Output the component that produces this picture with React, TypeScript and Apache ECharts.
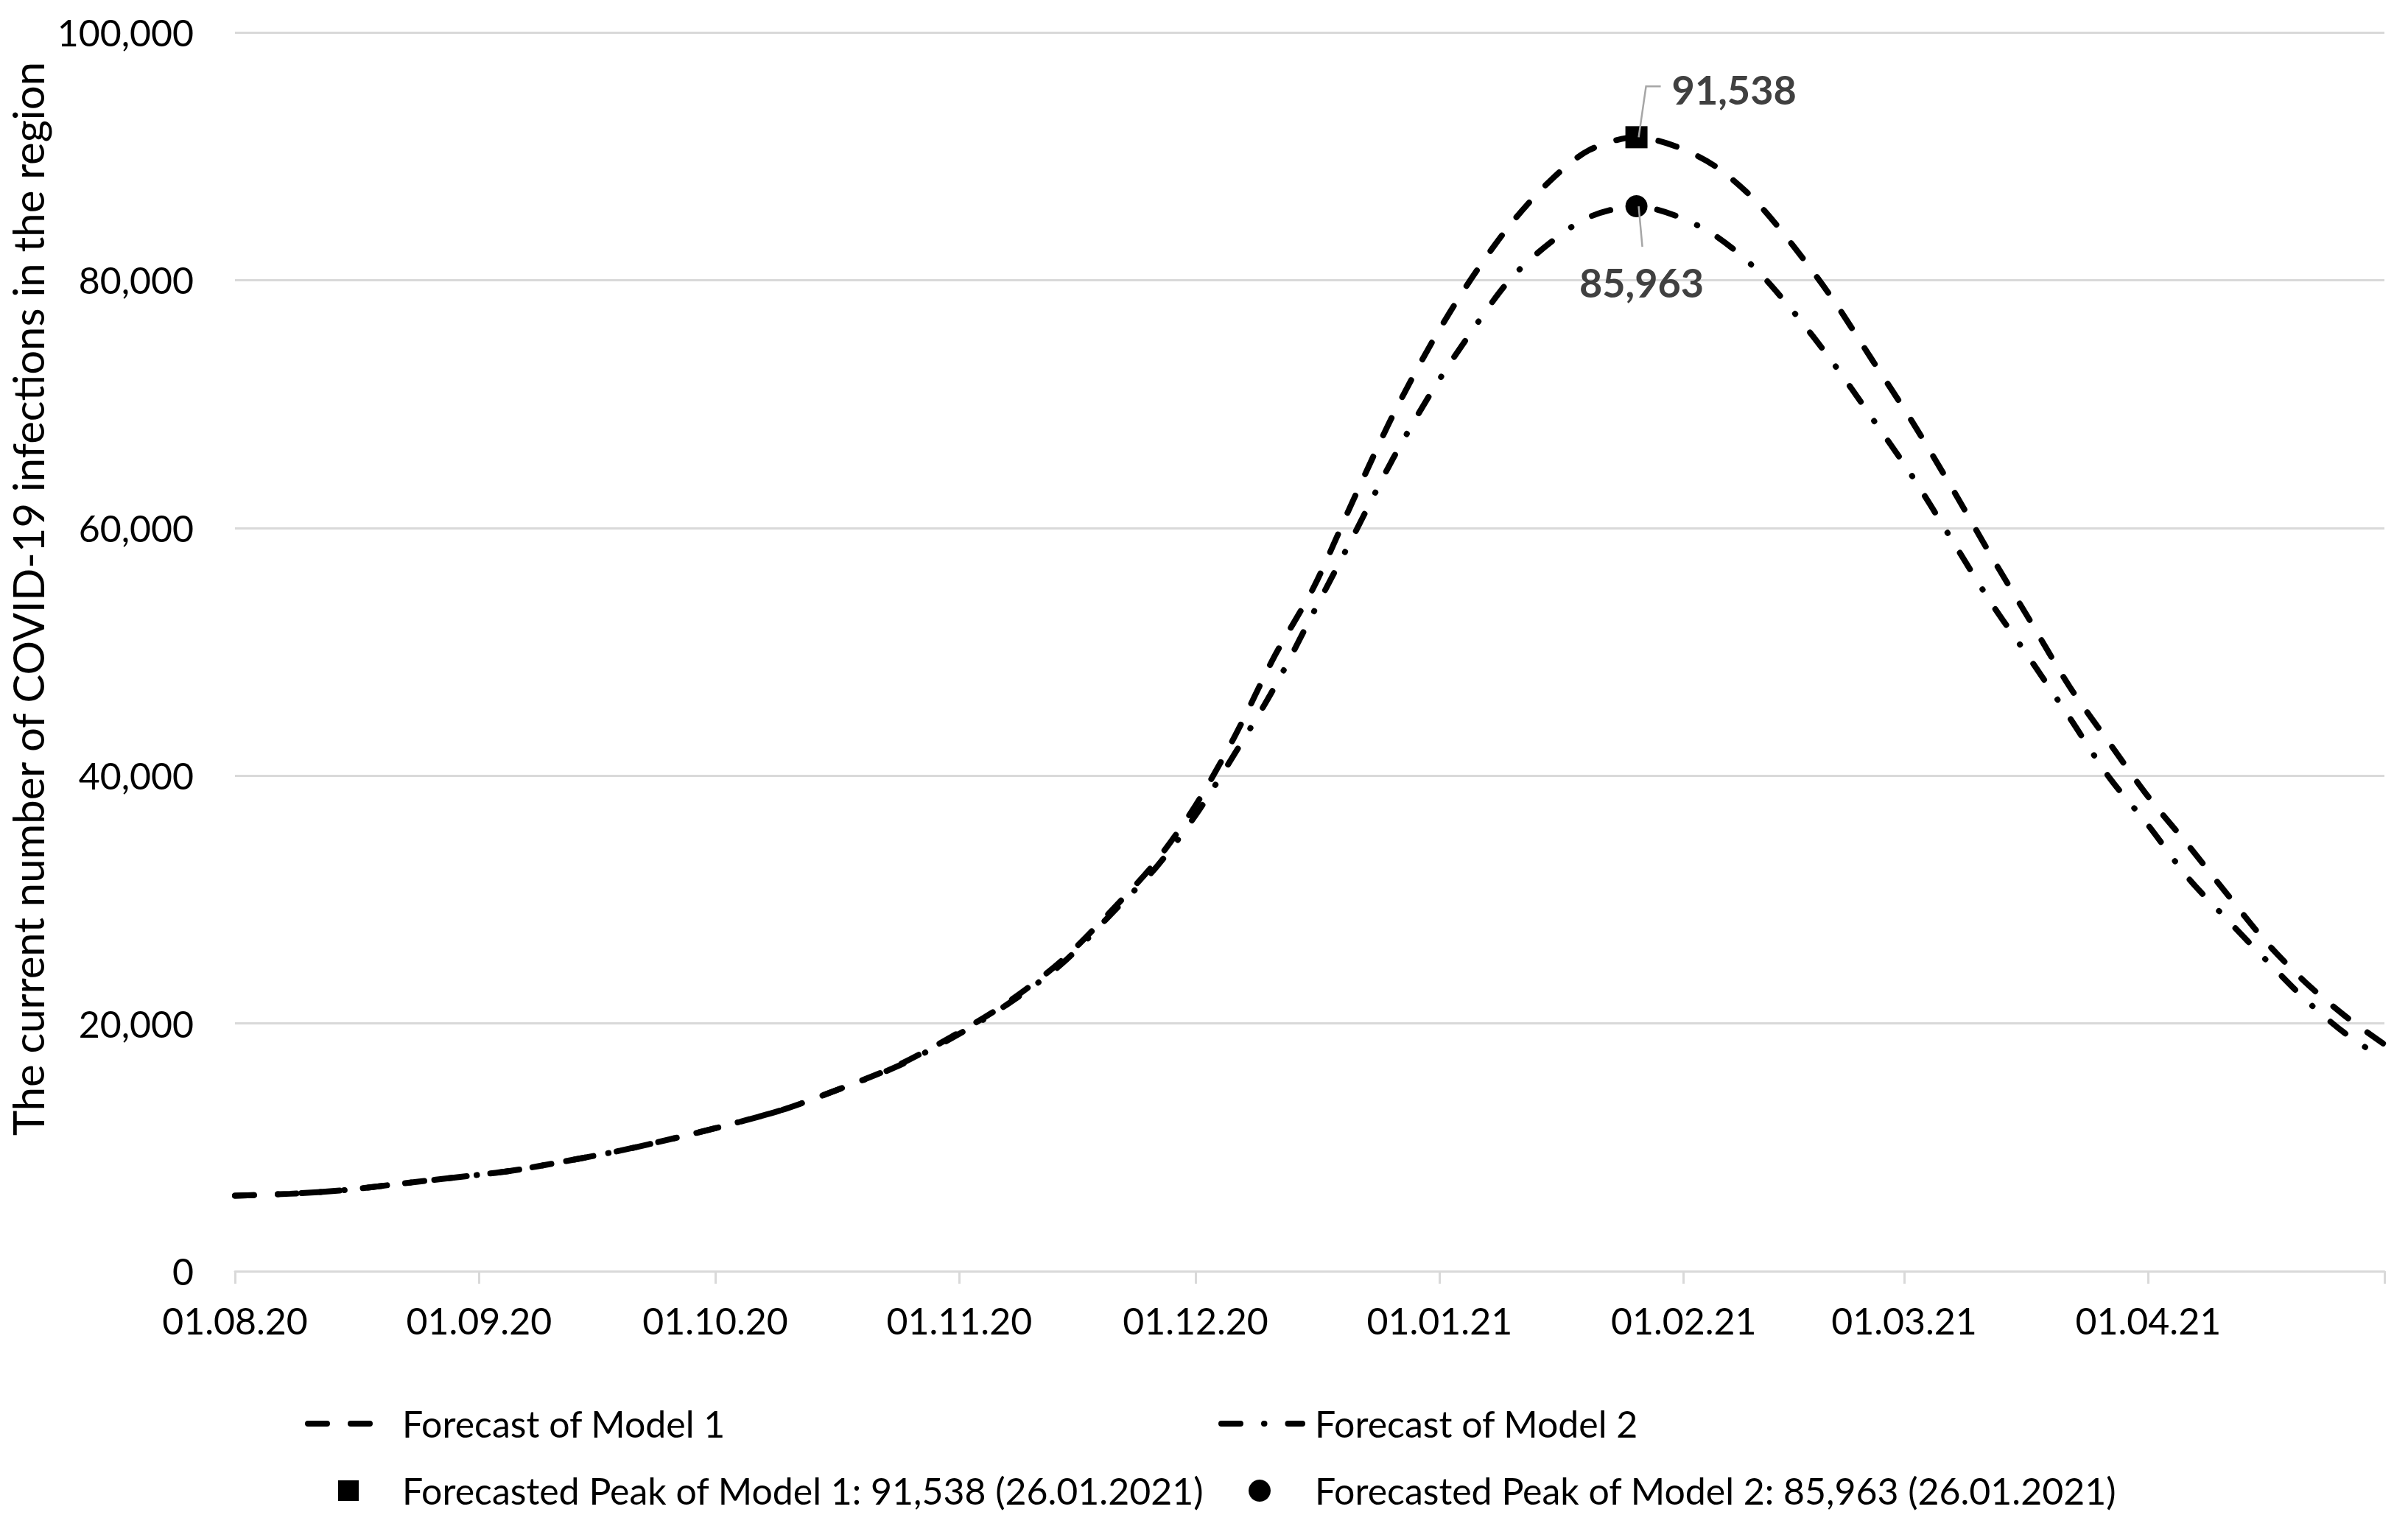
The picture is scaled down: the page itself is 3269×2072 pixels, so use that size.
import React, { useEffect, useRef } from 'react';
import * as echarts from 'echarts';

// ---- data ----
const axisStart = '01.08.20';
const axisEnd = '01.05.21';
const tickLabels = ['01.08.20', '01.09.20', '01.10.20', '01.11.20', '01.12.20', '01.01.21', '01.02.21', '01.03.21', '01.04.21'];
const yTickStep = 20000;
const yMax = 100000;

const sampleDates = [
  '01.08.20', '08.08.20', '15.08.20', '22.08.20', '29.08.20', '05.09.20', '12.09.20', '19.09.20', '26.09.20',
  '03.10.20', '10.10.20', '17.10.20', '24.10.20', '31.10.20', '07.11.20', '14.11.20', '21.11.20', '26.11.20',
  '01.12.20', '06.12.20', '11.12.20', '16.12.20', '21.12.20', '26.12.20', '31.12.20', '05.01.21', '10.01.21',
  '15.01.21', '20.01.21', '26.01.21', '31.01.21', '05.02.21', '10.02.21', '15.02.21', '20.02.21', '25.02.21',
  '02.03.21', '07.03.21', '12.03.21', '17.03.21', '22.03.21', '27.03.21', '01.04.21', '06.04.21', '11.04.21',
  '16.04.21', '21.04.21', '26.04.21', '01.05.21',
];

const model1 = [
  6100, 6250, 6550, 7060, 7570, 8100, 8880, 9740, 10760,
  11870, 13120, 14760, 16560, 18920, 21640, 25070, 29560, 33100,
  37600, 43200, 49600, 55200, 62200, 69000, 74950, 80100, 84500,
  88000, 90500, 91538, 90800, 89200, 86480, 82700, 78400, 73500,
  68600, 63300, 57800, 52500, 47200, 42700, 38300, 34450, 30450,
  26550, 23300, 20600, 18300,
];

const model2 = [
  6100, 6250, 6550, 7060, 7570, 8100, 8880, 9740, 10760,
  11870, 13120, 14760, 16500, 18800, 21500, 24800, 29300, 32600,
  36800, 41800, 47100, 53200, 59300, 65500, 71000, 75800, 80100,
  83000, 85100, 85963, 85200, 83600, 81000, 77400, 73300, 68800,
  64200, 59100, 54000, 49400, 44700, 39900, 36000, 31800, 28400,
  25100, 21900, 19200, 17100,
];

const peakDate = '26.01.21';
const peak1 = 91538;
const peak2 = 85963;

const name1 = 'Forecast of Model 1';
const name2 = 'Forecast of Model 2';
const namePeak1 = 'Forecasted Peak of Model 1: 91,538 (26.01.2021)';
const namePeak2 = 'Forecasted Peak of Model 2: 85,963 (26.01.2021)';
const yTitle = 'The current number of COVID-19 infections in the region';

// ---- helpers ----
function toUTC(s: string) {
  const [d, m, y] = s.split('.').map(Number);
  return Date.UTC(2000 + y, m - 1, d);
}
const base = toUTC(axisStart);
function toDay(s: string) {
  return Math.round((toUTC(s) - base) / 86400000);
}
const tickDays = tickLabels.map(toDay);
const endDay = toDay(axisEnd);
const labelByDay: Record<number, string> = {};
tickLabels.forEach((l, i) => (labelByDay[tickDays[i]] = l));

const line1 = sampleDates.map((d, i) => [toDay(d), model1[i]]);
const line2 = sampleDates.map((d, i) => [toDay(d), model2[i]]);
const peakDay = toDay(peakDate);

const FONT = 'Lato';
const GRID = '#d9d9d9';
const LW = 8;
const dash1 = [26, 32];
const dash2 = [26, 32, 0.5, 32];
const FS = 50;

export default function App() {
  const ref = useRef<HTMLDivElement>(null);
  useEffect(() => {
    document.body.style.margin = '0';
    const chart = echarts.init(ref.current as HTMLDivElement, null, { renderer: 'svg' });
    const peakLabel = {
      show: true,
      formatter: (p: any) => Number(p.value[1]).toLocaleString('en-US'),
      fontFamily: FONT,
      fontWeight: 'bold',
      fontSize: 54,
      color: '#404040',
      opacity: 1,
    };
    chart.setOption({
      animation: false,
      textStyle: { fontFamily: FONT },
      grid: { left: 319, right: 32, top: 44, bottom: 346, containLabel: false },
      xAxis: {
        type: 'value',
        min: 0,
        max: endDay,
        axisLine: { show: true, lineStyle: { color: GRID, width: 3 } },
        axisTick: {
          show: true,
          customValues: tickDays.concat([endDay]),
          length: 17,
          lineStyle: { color: GRID, width: 3 },
        },
        axisLabel: {
          customValues: tickDays,
          formatter: (v: number) => labelByDay[v] ?? '',
          fontFamily: FONT,
          fontSize: FS,
          color: '#000',
          margin: 42,
        },
        splitLine: { show: false },
      },
      yAxis: {
        type: 'value',
        min: 0,
        max: yMax,
        interval: yTickStep,
        axisLine: { show: false },
        axisTick: { show: false },
        axisLabel: {
          formatter: (v: number) => v.toLocaleString('en-US'),
          fontFamily: FONT,
          fontSize: FS,
          color: '#000',
          margin: 56,
        },
        splitLine: { show: true, lineStyle: { color: GRID, width: 3 } },
      },
      series: [
        {
          name: name1,
          type: 'line',
          data: line1,
          symbol: 'none',
          smooth: 0.3,
          lineStyle: { color: '#000', width: LW, type: dash1, cap: 'round' },
          itemStyle: { color: '#000' },
          z: 3,
        },
        {
          name: name2,
          type: 'line',
          data: line2,
          symbol: 'none',
          smooth: 0.3,
          lineStyle: { color: '#000', width: LW, type: dash2, cap: 'round' },
          itemStyle: { color: '#000' },
          z: 3,
        },
        {
          name: namePeak1,
          type: 'scatter',
          data: [[peakDay, peak1]],
          symbol: 'rect',
          symbolSize: 30,
          itemStyle: { color: '#000', opacity: 1 },
          z: 5,
          label: { ...peakLabel, position: [63, -50], align: 'left', verticalAlign: 'middle' },
        },
        {
          name: namePeak2,
          type: 'scatter',
          data: [[peakDay, peak2]],
          symbol: 'circle',
          symbolSize: 30,
          itemStyle: { color: '#000', opacity: 1 },
          z: 5,
          label: { ...peakLabel, position: [22, 118], align: 'center', verticalAlign: 'middle' },
        },
      ],
    });

    const a = chart.convertToPixel({ gridIndex: 0 }, [peakDay, peak1]) as number[];
    const b = chart.convertToPixel({ gridIndex: 0 }, [peakDay, peak2]) as number[];
    const legText = (t: string, x: number, y: number) => ({
      type: 'text',
      x,
      y,
      style: { text: t, fontFamily: FONT, fontSize: FS, fill: '#000', textAlign: 'left', textVerticalAlign: 'middle' },
    });
    const r1 = 1933;
    const r2 = 2024;
    chart.setOption({
      graphic: [
        {
          type: 'polyline',
          z: 20,
          shape: { points: [[a[0] + 3, a[1]], [a[0] + 13, a[1] - 69], [a[0] + 33, a[1] - 69]] },
          style: { stroke: '#a6a6a6', lineWidth: 2.5, fill: null },
        },
        {
          type: 'polyline',
          z: 20,
          shape: { points: [[b[0] + 3, b[1]], [b[0] + 8, b[1] + 55]] },
          style: { stroke: '#a6a6a6', lineWidth: 2.5, fill: null },
        },
        {
          type: 'text',
          x: 37,
          y: 813,
          rotation: Math.PI / 2,
          style: {
            text: yTitle,
            fontFamily: FONT,
            fontSize: 58,
            fill: '#000',
            textAlign: 'center',
            textVerticalAlign: 'middle',
          },
        },
        // legend
        {
          type: 'line',
          shape: { x1: 418, y1: r1, x2: 502, y2: r1 },
          style: { stroke: '#000', lineWidth: LW, lineDash: dash1, lineCap: 'round' },
        },
        legText(name1, 546, r1),
        {
          type: 'line',
          shape: { x1: 1658, y1: r1, x2: 1768, y2: r1 },
          style: { stroke: '#000', lineWidth: LW, lineDash: dash2, lineCap: 'round' },
        },
        legText(name2, 1785, r1),
        {
          type: 'rect',
          shape: { x: 459, y: r2 - 14, width: 28, height: 28 },
          style: { fill: '#000' },
        },
        legText(namePeak1, 546, r2),
        {
          type: 'circle',
          shape: { cx: 1710, cy: r2, r: 15 },
          style: { fill: '#000' },
        },
        legText(namePeak2, 1785, r2),
      ],
    });
    return () => chart.dispose();
  }, []);
  return <div ref={ref} style={{ width: 3269, height: 2072 }} />;
}
